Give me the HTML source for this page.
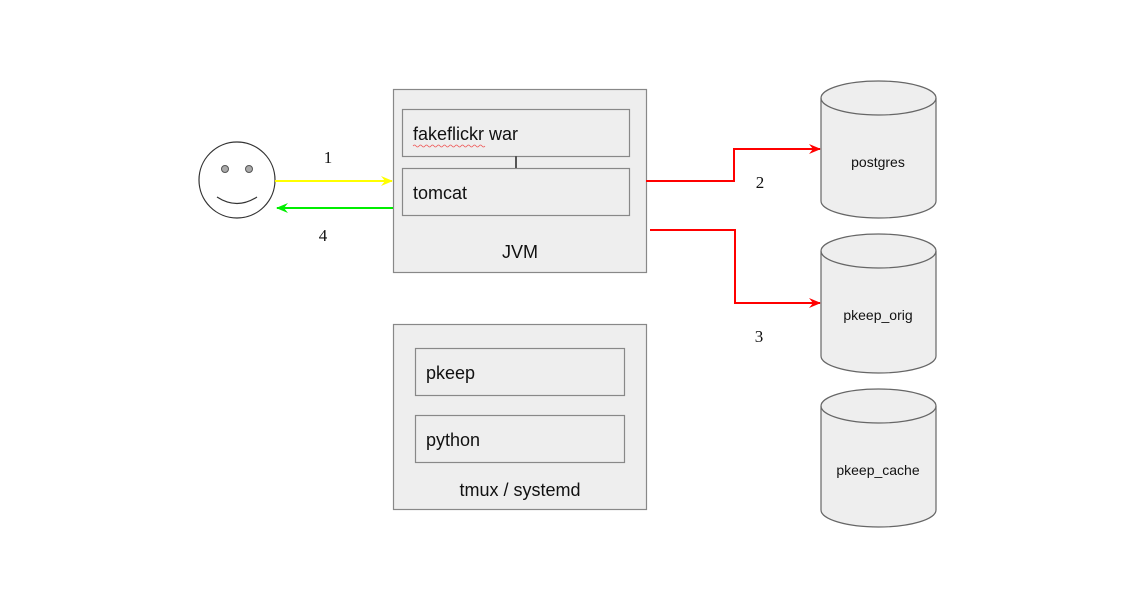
<!DOCTYPE html>
<html><head><meta charset="utf-8"><style>body{margin:0;background:#fff}</style></head>
<body>
<svg width="1136" height="594" xmlns="http://www.w3.org/2000/svg" font-family="Liberation Sans, sans-serif">
<defs>
<marker id="ar" markerWidth="12" markerHeight="10" refX="11" refY="5" orient="auto" markerUnits="userSpaceOnUse"><path d="M0,0 L12,5 L0,10 L4,5 z" fill="red"/></marker>
<marker id="ay" markerWidth="12" markerHeight="10" refX="11" refY="5" orient="auto" markerUnits="userSpaceOnUse"><path d="M0,0 L12,5 L0,10 L4,5 z" fill="#ffff00"/></marker>
<marker id="ag" markerWidth="12" markerHeight="10" refX="11" refY="5" orient="auto" markerUnits="userSpaceOnUse"><path d="M0,0 L12,5 L0,10 L4,5 z" fill="#00ee00"/></marker>
</defs>
<!-- face -->
<circle cx="237" cy="180" r="38" fill="#fff" stroke="#333" stroke-width="1.2"/>
<circle cx="225" cy="169" r="3.5" fill="#aaa" stroke="#555"/>
<circle cx="249" cy="169" r="3.5" fill="#aaa" stroke="#555"/>
<path d="M217,197 Q237,210 257,197" fill="none" stroke="#333" stroke-width="1.2"/>
<!-- JVM -->
<rect x="393.5" y="89.5" width="253" height="183" fill="#eee" stroke="#888" stroke-width="1.2"/>
<rect x="402.5" y="109.5" width="227" height="47" fill="#eee" stroke="#888" stroke-width="1.2"/>
<rect x="402.5" y="168.5" width="227" height="47" fill="#eee" stroke="#888" stroke-width="1.2"/>
<line x1="516" y1="156" x2="516" y2="168" stroke="#555" stroke-width="2"/>
<text x="413" y="140" font-size="18" fill="#111">fakeflickr war</text>
<path d="M413,146 q1.5,-2 3,0 t3,0 t3,0 t3,0 t3,0 t3,0 t3,0 t3,0 t3,0 t3,0 t3,0 t3,0 t3,0 t3,0 t3,0 t3,0 t3,0 t3,0 t3,0 t3,0 t3,0 t3,0 t3,0 t3,0" fill="none" stroke="#e55" stroke-width="0.7"/>
<text x="413" y="199" font-size="18" fill="#111">tomcat</text>
<text x="520" y="258" font-size="18" fill="#111" text-anchor="middle">JVM</text>
<!-- tmux -->
<rect x="393.5" y="324.5" width="253" height="185" fill="#eee" stroke="#888" stroke-width="1.2"/>
<rect x="415.5" y="348.5" width="209" height="47" fill="#eee" stroke="#888" stroke-width="1.2"/>
<rect x="415.5" y="415.5" width="209" height="47" fill="#eee" stroke="#888" stroke-width="1.2"/>
<text x="426" y="379" font-size="18" fill="#111">pkeep</text>
<text x="426" y="446" font-size="18" fill="#111">python</text>
<text x="520" y="496" font-size="18" fill="#111" text-anchor="middle">tmux / systemd</text>
<!-- arrows -->
<line x1="275" y1="181" x2="392" y2="181" stroke="#ffff00" stroke-width="2" marker-end="url(#ay)"/>
<line x1="393" y1="208" x2="277" y2="208" stroke="#00ee00" stroke-width="2" marker-end="url(#ag)"/>
<polyline points="646,181 734,181 734,149 820,149" fill="none" stroke="red" stroke-width="2" marker-end="url(#ar)"/>
<polyline points="650,230 735,230 735,303 820,303" fill="none" stroke="red" stroke-width="2" marker-end="url(#ar)"/>
<g font-family="Liberation Serif, serif" font-size="17" fill="#111" text-anchor="middle">
<text x="328" y="163">1</text><text x="323" y="241">4</text>
<text x="760" y="188">2</text><text x="759" y="342">3</text>
</g>
<!-- cylinders -->
<g fill="#eee" stroke="#666" stroke-width="1.2">
<path d="M821,98 A57.5,17 0 0 1 936,98 L936,201 A57.5,17 0 0 1 821,201 Z"/>
<path d="M821,98 A57.5,17 0 0 0 936,98" fill="none"/>
<path d="M821,251 A57.5,17 0 0 1 936,251 L936,356 A57.5,17 0 0 1 821,356 Z"/>
<path d="M821,251 A57.5,17 0 0 0 936,251" fill="none"/>
<path d="M821,406 A57.5,17 0 0 1 936,406 L936,510 A57.5,17 0 0 1 821,510 Z"/>
<path d="M821,406 A57.5,17 0 0 0 936,406" fill="none"/>
</g>
<g font-size="14" fill="#111" text-anchor="middle">
<text x="878" y="167">postgres</text>
<text x="878" y="320">pkeep_orig</text>
<text x="878" y="475">pkeep_cache</text>
</g>
</svg>
</body></html>
